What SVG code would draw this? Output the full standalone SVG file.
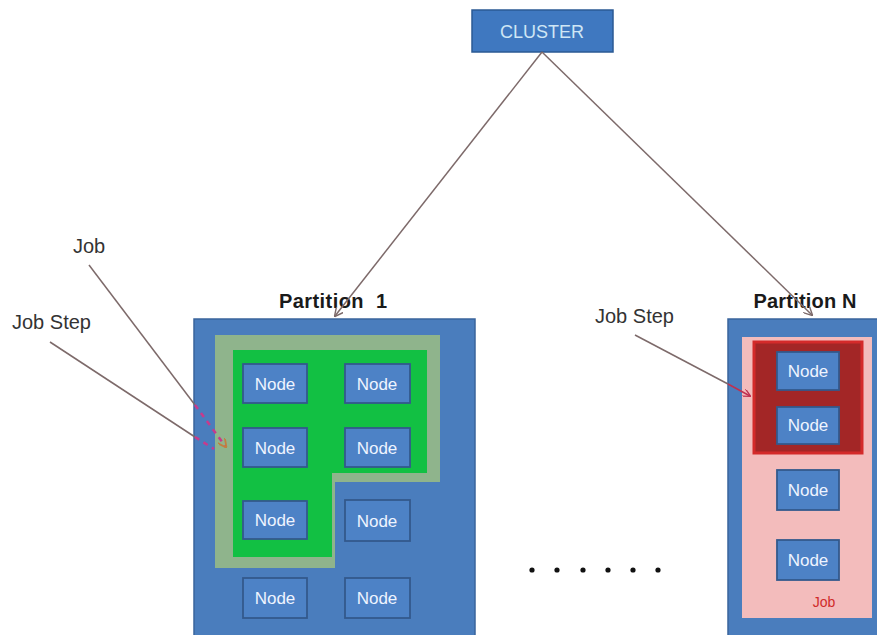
<svg xmlns="http://www.w3.org/2000/svg" width="877" height="635" viewBox="0 0 877 635">
  <defs>
    <marker id="open" viewBox="0 0 10 10" refX="9" refY="5" markerWidth="9" markerHeight="9" markerUnits="userSpaceOnUse" orient="auto">
      <path d="M0,0 L10,5 L0,10" fill="none" stroke="#7d6a6a" stroke-width="1.6"/>
    </marker>
    <marker id="openRed" viewBox="0 0 10 10" refX="9" refY="5" markerWidth="8" markerHeight="8" markerUnits="userSpaceOnUse" orient="auto">
      <path d="M0,0 L10,5 L0,10" fill="none" stroke="#c03050" stroke-width="1.6"/>
    </marker>
    <marker id="openOrange" viewBox="0 0 10 10" refX="9" refY="5" markerWidth="9" markerHeight="9" markerUnits="userSpaceOnUse" orient="auto">
      <path d="M0,0 L10,5 L0,10" fill="none" stroke="#c08040" stroke-width="2"/>
    </marker>
  </defs>
  <style>
    .label { font-family: "Liberation Sans", Arial, sans-serif; fill: #333333; font-size: 20px; }
    .title { font-family: "Liberation Sans", Arial, sans-serif; fill: #1a1a1a; font-size: 20px; font-weight: bold; }
    .part { fill: #4a7dbd; stroke: #3a649c; stroke-width: 1.5; }
    .node rect { fill: #4d82c6; stroke: #33598c; stroke-width: 1.8; }
    .node text { font-family: "Liberation Sans", Arial, sans-serif; font-size: 17px; fill: #eef4ff; text-anchor: middle; }
    .wire { stroke: #7d6a6a; stroke-width: 1.5; fill: none; }
    .dash { stroke: #c83a8c; stroke-width: 2.5; fill: none; stroke-dasharray: 5 5; }
  </style>

  <rect width="877" height="635" fill="#ffffff"/>

  <!-- cluster root -->
  <g id="cluster">
    <rect x="472" y="10" width="141" height="42" fill="#3f78c0" stroke="#2b5a94" stroke-width="1.5"/>
    <text x="542" y="38" font-family="Liberation Sans, Arial, sans-serif" font-size="18" fill="#cfe6f5" text-anchor="middle">CLUSTER</text>
  </g>

  <!-- partition 1 -->
  <g id="partition-1">
    <text class="title" x="333" y="308" text-anchor="middle" textLength="108" xml:space="preserve">Partition  1</text>
    <rect class="part" x="194" y="319" width="281" height="320"/>
    <!-- job area (outer frame) and job step (inner green) -->
    <polygon points="215,335 440,335 440,482 335,482 335,568 215,568" fill="#8fb48c"/>
    <polygon points="233,350 427,350 427,473 332,473 332,557 233,557" fill="#12c043"/>
  </g>

  <g id="p1-node-1" class="node"><rect x="243" y="364" width="64" height="39"/><text x="275" y="390">Node</text></g>
  <g id="p1-node-2" class="node"><rect x="345" y="364" width="65" height="39"/><text x="377" y="390">Node</text></g>
  <g id="p1-node-3" class="node"><rect x="243" y="428" width="64" height="39"/><text x="275" y="454">Node</text></g>
  <g id="p1-node-4" class="node"><rect x="345" y="428" width="65" height="39"/><text x="377" y="454">Node</text></g>
  <g id="p1-node-5" class="node"><rect x="243" y="501" width="64" height="38"/><text x="275" y="526">Node</text></g>
  <g id="p1-node-6" class="node"><rect x="345" y="500" width="65" height="41"/><text x="377" y="527">Node</text></g>
  <g id="p1-node-7" class="node"><rect x="243" y="578" width="64" height="40"/><text x="275" y="604">Node</text></g>
  <g id="p1-node-8" class="node"><rect x="345" y="578" width="65" height="40"/><text x="377" y="604">Node</text></g>

  <!-- partition N -->
  <g id="partition-n">
    <text class="title" x="805" y="308" text-anchor="middle" textLength="103">Partition N</text>
    <rect class="part" x="728" y="319" width="155" height="320"/>
    <rect x="742" y="337" width="130" height="281" fill="#f3bcbc"/>
    <rect x="754" y="342" width="108" height="111" fill="#a32626" stroke="#d42a2a" stroke-width="3"/>
    <text x="824" y="607" font-family="Liberation Sans, Arial, sans-serif" font-size="14" fill="#d02a2a" text-anchor="middle">Job</text>
  </g>

  <g id="pn-node-1" class="node"><rect x="777" y="352" width="62" height="38"/><text x="808" y="377">Node</text></g>
  <g id="pn-node-2" class="node"><rect x="777" y="407" width="62" height="37"/><text x="808" y="431">Node</text></g>
  <g id="pn-node-3" class="node"><rect x="777" y="470" width="62" height="40"/><text x="808" y="496">Node</text></g>
  <g id="pn-node-4" class="node"><rect x="777" y="540" width="62" height="40"/><text x="808" y="566">Node</text></g>

  <!-- free labels -->
  <g id="labels">
    <text class="label" x="73" y="253">Job</text>
    <text class="label" x="12" y="329">Job Step</text>
    <text class="label" x="595" y="323">Job Step</text>
  </g>

  <!-- ellipsis between partitions -->
  <g id="ellipsis" fill="#111111">
    <circle cx="532" cy="570" r="2.6"/>
    <circle cx="557" cy="570" r="2.6"/>
    <circle cx="583" cy="570" r="2.6"/>
    <circle cx="608" cy="570" r="2.6"/>
    <circle cx="633" cy="570" r="2.6"/>
    <circle cx="658" cy="570" r="2.6"/>
  </g>

  <!-- connectors -->
  <g id="connectors">
    <line class="wire" x1="542" y1="52" x2="335" y2="316" marker-end="url(#open)"/>
    <line class="wire" x1="542" y1="52" x2="812" y2="315" marker-end="url(#open)"/>
    <line class="wire" x1="89" y1="265" x2="195" y2="405"/>
    <line class="dash" x1="195" y1="405" x2="226" y2="447" marker-end="url(#openOrange)"/>
    <line class="wire" x1="50" y1="342" x2="195" y2="437"/>
    <line class="dash" x1="195" y1="437" x2="214" y2="449"/>
    <line class="wire" x1="635" y1="335" x2="728" y2="384"/>
    <line x1="728" y1="384" x2="750" y2="396" stroke="#c03050" stroke-width="1.5" marker-end="url(#openRed)"/>
  </g>
</svg>
